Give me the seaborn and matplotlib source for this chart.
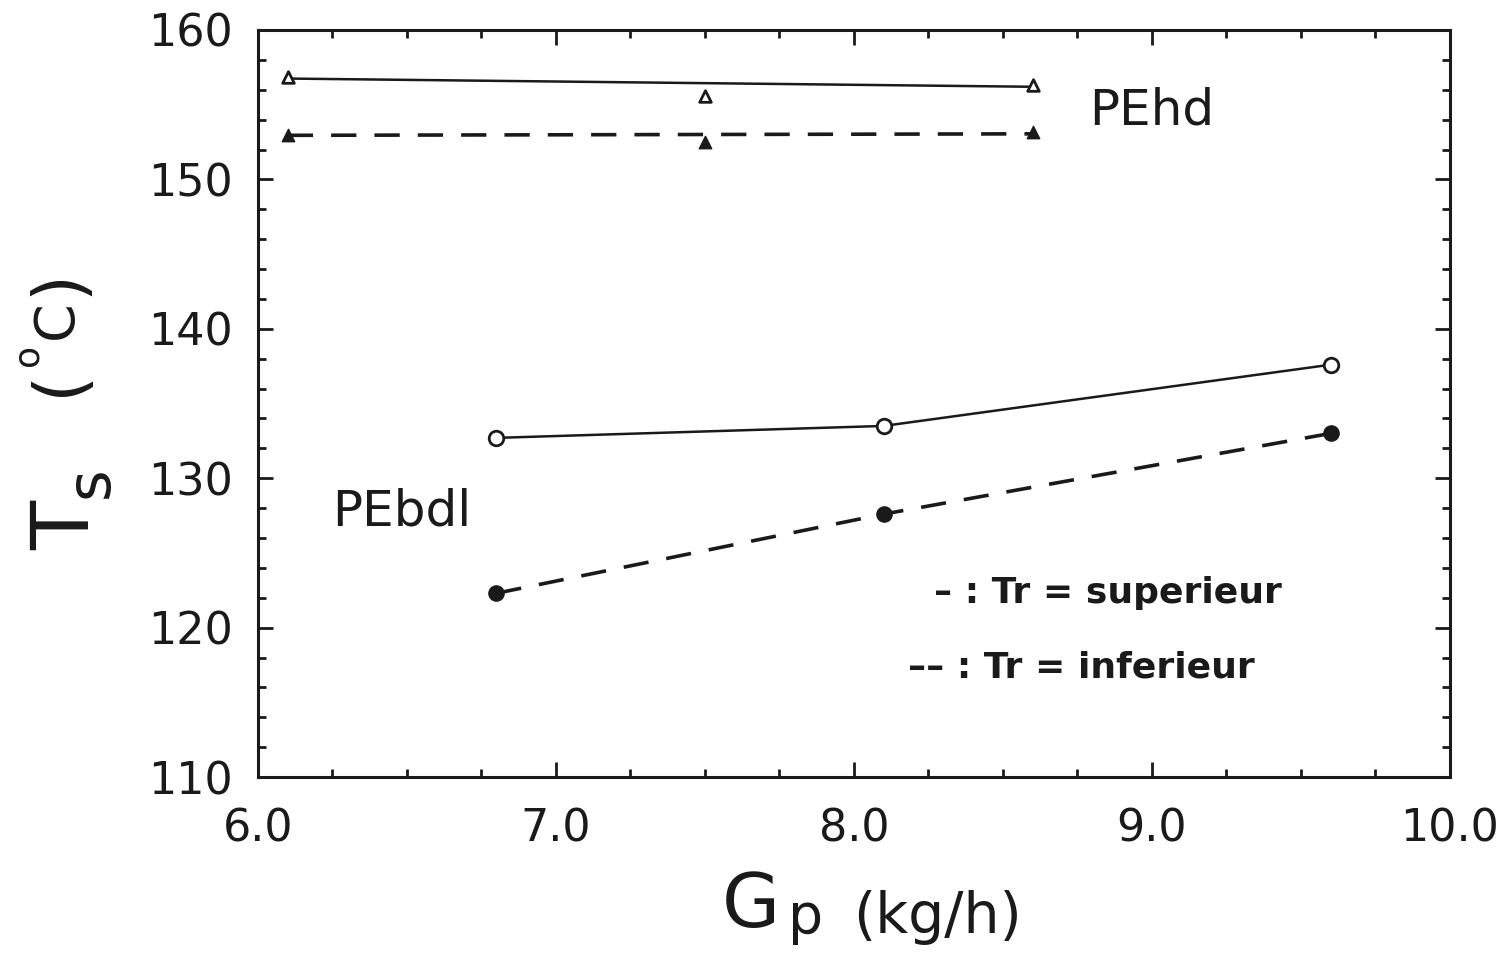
import matplotlib
matplotlib.use("Agg")
import matplotlib.pyplot as plt
import seaborn as sns
from matplotlib.ticker import MultipleLocator

# ---- data ----
hd_x = [6.1, 7.5, 8.6]
hd_sup_y = [156.85, 155.6, 156.3]
hd_inf_y = [153.0, 152.5, 153.2]
hd_sup_fit_x = [6.1, 8.6]
hd_sup_fit_y = [156.75, 156.2]
hd_inf_fit_x = [6.1, 8.6]
hd_inf_fit_y = [152.95, 153.05]

bdl_x = [6.8, 8.1, 9.6]
bdl_sup_y = [132.7, 133.5, 137.6]
bdl_inf_y = [122.3, 127.6, 133.0]

x_ticks = [6.0, 7.0, 8.0, 9.0, 10.0]
x_tick_labels = ["6.0", "7.0", "8.0", "9.0", "10.0"]
y_ticks = [110, 120, 130, 140, 150, 160]

sns.set_style("ticks")
plt.rcParams['font.family'] = ['DejaVu Sans']

fig = plt.figure(figsize=(15.06, 9.6), dpi=100)
ax = fig.add_axes([0.1713, 0.1906, 0.9628 - 0.1713, 0.96875 - 0.1906])

k = "#1a1a1a"
dash = (7, 5)

# PEhd lines (fitted)
sns.lineplot(x=hd_sup_fit_x, y=hd_sup_fit_y, ax=ax, color=k, lw=1.8)
sns.lineplot(x=hd_inf_fit_x, y=hd_inf_fit_y, ax=ax, color=k, lw=2.6)
ax.lines[-1].set_dashes(dash)
# PEbdl lines
sns.lineplot(x=bdl_x, y=bdl_sup_y, ax=ax, color=k, lw=1.8)
sns.lineplot(x=bdl_x, y=bdl_inf_y, ax=ax, color=k, lw=2.6)
ax.lines[-1].set_dashes(dash)

# markers
sns.scatterplot(x=hd_x, y=hd_sup_y, ax=ax, marker="^", s=70, facecolor="white",
                edgecolor=k, linewidth=2, zorder=5)
sns.scatterplot(x=hd_x, y=hd_inf_y, ax=ax, marker="^", s=80, color=k,
                edgecolor=k, linewidth=1, zorder=5)
sns.scatterplot(x=bdl_x, y=bdl_sup_y, ax=ax, marker="o", s=110, facecolor="white",
                edgecolor=k, linewidth=2, zorder=5)
sns.scatterplot(x=bdl_x, y=bdl_inf_y, ax=ax, marker="o", s=120, color=k,
                edgecolor=k, linewidth=1, zorder=5)

ax.set_xlim(6.0, 10.0)
ax.set_ylim(110, 160)
ax.set_xticks(x_ticks)
ax.set_xticklabels(x_tick_labels)
ax.set_yticks(y_ticks)
ax.xaxis.set_minor_locator(MultipleLocator(0.25))
ax.yaxis.set_minor_locator(MultipleLocator(2))
ax.tick_params(which="both", direction="in", top=True, right=True, color=k, width=2)
ax.tick_params(which="major", length=11, labelsize=32, labelcolor=k)
ax.tick_params(which="minor", length=6)
ax.tick_params(axis="x", pad=22)
ax.tick_params(axis="y", pad=18)
for sp in ax.spines.values():
    sp.set_linewidth(2.2)
    sp.set_color(k)
ax.set_xlabel("")
ax.set_ylabel("")

# annotations
ax.text(8.79, 154.6, "PEhd", fontsize=36, color=k, va="center", ha="left")
ax.text(6.25, 127.8, "PEbdl", fontsize=36, color=k, va="center", ha="left")
ax.text(8.27, 122.3, "– : Tr = superieur", fontsize=26, color=k, va="center", ha="left",
        fontweight="bold")
ax.text(8.18, 117.3, "–– : Tr = inferieur", fontsize=26, color=k, va="center", ha="left",
        fontweight="bold")

# x axis label
fig.text(722 / 1506, 1 - 927 / 960, "G", fontsize=54, color=k, ha="left", va="baseline")
fig.text(788 / 1506, 1 - 933 / 960, "p", fontsize=40, color=k, ha="left", va="baseline")
fig.text(853 / 1506, 1 - 933 / 960, "(kg/h)", fontsize=41, color=k, ha="left", va="baseline")

# y axis label (rotated pieces)
fig.text(67 / 1506, 1 - 525 / 960, "T", fontsize=58, color=k, ha="center", va="center", rotation=90)
fig.text(91 / 1506, 1 - 482 / 960, "s", fontsize=44, color=k, ha="center", va="center", rotation=90)
fig.text(59 / 1506, 1 - 382 / 960, "(", fontsize=50, color=k, ha="center", va="center", rotation=90)
fig.text(28 / 1506, 1 - 355 / 960, "o", fontsize=26, color=k, ha="center", va="center", rotation=90)
fig.text(57 / 1506, 1 - 320 / 960, "C", fontsize=40, color=k, ha="center", va="center", rotation=90)
fig.text(59 / 1506, 1 - 283 / 960, ")", fontsize=50, color=k, ha="center", va="center", rotation=90)

fig.savefig("out.png", dpi=100, facecolor="white")
